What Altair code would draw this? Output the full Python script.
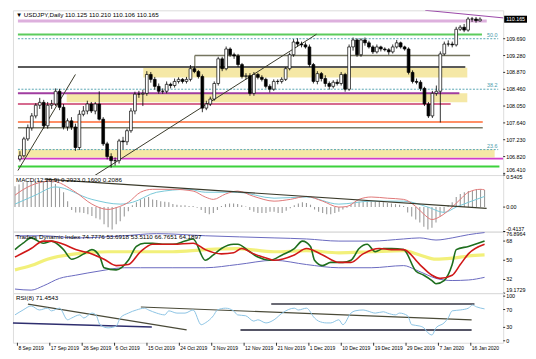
import altair as alt
import pandas as pd

# ---------------- data ----------------
opens = [106.76, 106.84, 107.25, 107.52, 107.81, 108.07, 108.14, 107.57, 108.07, 108.10,
         108.41, 108.02, 107.54, 107.69, 107.54, 107.04, 107.85, 107.93, 108.10, 107.93,
         108.10, 107.73, 107.13, 106.82, 106.72, 106.72, 107.20, 107.18, 107.45, 107.93,
         108.34, 108.34, 108.36, 108.82, 108.70, 108.53, 108.41, 108.41, 108.58, 108.55,
         108.65, 108.70, 108.65, 108.70, 108.96, 108.89, 108.77, 108.00, 108.10, 108.22,
         108.60, 109.20, 108.96, 109.44, 109.30, 109.27, 109.06, 108.77, 108.79, 108.36,
         108.82, 108.75, 108.70, 108.53, 108.46, 108.65, 108.65, 108.70, 108.96, 109.30,
         109.61, 109.56, 109.54, 109.49, 109.06, 108.65, 108.84, 108.72, 108.60, 108.53,
         108.63, 108.60, 108.82, 108.46, 109.49, 109.66, 109.30, 109.66, 109.59, 109.49,
         109.37, 109.49, 109.44, 109.42, 109.37, 109.49, 109.59, 109.49, 109.44, 108.87,
         108.65, 108.63, 108.48, 108.10, 107.81, 108.36, 108.41, 109.32, 109.56, 109.56,
         109.54, 109.92, 109.97, 109.90, 110.17, 110.17, 110.125]
highs = [106.95, 107.30, 107.60, 107.88, 108.12, 108.25, 108.20, 108.15, 108.20, 108.48,
         108.47, 108.10, 107.75, 107.78, 107.62, 107.95, 108.05, 108.18, 108.15, 108.15,
         108.41, 107.78, 107.18, 106.90, 106.80, 107.25, 107.30, 107.50, 108.00, 108.40,
         108.42, 108.45, 108.90, 108.88, 108.76, 108.60, 108.48, 108.65, 108.62, 108.72,
         108.75, 108.73, 108.76, 109.05, 109.02, 108.93, 108.82, 108.18, 108.28, 108.65,
         109.25, 109.25, 109.50, 109.48, 109.35, 109.32, 109.10, 108.85, 108.85, 108.88,
         108.86, 108.80, 108.74, 108.58, 108.70, 108.70, 108.75, 109.00, 109.35, 109.68,
         109.70, 109.62, 109.60, 109.55, 109.10, 108.90, 108.88, 108.80, 108.65, 108.68,
         108.70, 108.88, 108.86, 109.55, 109.72, 109.70, 109.70, 109.72, 109.64, 109.53,
         109.55, 109.52, 109.48, 109.46, 109.55, 109.66, 109.62, 109.52, 109.48, 108.92,
         108.72, 108.68, 108.52, 108.15, 108.42, 108.55, 109.38, 109.62, 109.65, 109.62,
         109.98, 110.02, 110.05, 110.22, 110.22, 110.22, 110.21]
lows = [106.70, 106.80, 107.20, 107.45, 107.75, 107.98, 107.50, 107.50, 107.98, 108.05,
        107.95, 107.48, 107.45, 107.47, 106.96, 106.98, 107.80, 107.85, 107.88, 107.85,
        107.70, 107.08, 106.75, 106.55, 106.60, 106.65, 107.00, 107.10, 107.40, 107.85,
        108.25, 108.05, 108.30, 108.62, 108.45, 108.35, 108.35, 108.36, 108.48, 108.50,
        108.60, 108.60, 108.60, 108.65, 108.85, 108.72, 107.90, 107.95, 108.05, 108.18,
        108.55, 108.90, 108.92, 109.25, 109.20, 109.00, 108.72, 108.70, 108.30, 108.30,
        108.70, 108.65, 108.48, 108.38, 108.42, 108.58, 108.60, 108.66, 108.92, 109.25,
        109.50, 109.48, 109.45, 109.00, 108.60, 108.58, 108.65, 108.52, 108.45, 108.48,
        108.55, 108.55, 108.40, 108.42, 109.40, 109.25, 109.25, 109.52, 109.45, 109.32,
        109.33, 109.38, 109.38, 109.30, 109.33, 109.45, 109.45, 109.40, 108.82, 108.60,
        108.58, 108.42, 108.05, 107.76, 107.76, 108.30, 107.65, 109.28, 109.50, 109.48,
        109.50, 109.88, 109.85, 109.86, 110.10, 110.08, 110.106]
closes = [106.84, 107.25, 107.52, 107.81, 108.07, 108.14, 107.57, 108.07, 108.10, 108.41,
          108.02, 107.54, 107.69, 107.54, 107.04, 107.85, 107.93, 108.10, 107.93, 108.10,
          107.73, 107.13, 106.82, 106.72, 106.72, 107.20, 107.18, 107.45, 107.93, 108.34,
          108.34, 108.36, 108.82, 108.70, 108.53, 108.41, 108.41, 108.58, 108.55, 108.65,
          108.70, 108.65, 108.70, 108.96, 108.89, 108.77, 108.00, 108.10, 108.22, 108.60,
          109.20, 108.96, 109.44, 109.30, 109.27, 109.06, 108.77, 108.79, 108.36, 108.82,
          108.75, 108.70, 108.53, 108.46, 108.65, 108.65, 108.70, 108.96, 109.30, 109.61,
          109.56, 109.54, 109.49, 109.06, 108.65, 108.84, 108.72, 108.60, 108.53, 108.63,
          108.60, 108.82, 108.46, 109.49, 109.66, 109.30, 109.66, 109.59, 109.49, 109.37,
          109.49, 109.44, 109.42, 109.37, 109.49, 109.59, 109.49, 109.44, 108.87, 108.65,
          108.63, 108.48, 108.10, 107.81, 108.36, 108.41, 109.32, 109.56, 109.56, 109.54,
          109.92, 109.97, 109.90, 110.17, 110.17, 110.13, 110.165]

date_labels = ["8 Sep 2019", "17 Sep 2019", "26 Sep 2019", "6 Oct 2019", "15 Oct 2019",
               "24 Oct 2019", "3 Nov 2019", "12 Nov 2019", "21 Nov 2019", "1 Dec 2019",
               "10 Dec 2019", "19 Dec 2019", "29 Dec 2019", "7 Jan 2020", "16 Jan 2020"]
date_pos = [0.6 + 8 * k for k in range(len(date_labels))]
price_ticks = [109.69, 109.28, 108.87, 108.46, 108.05, 107.64, 107.23, 106.82, 106.41]
price_labels = ["109.690", "109.280", "108.870", "108.460", "108.050", "107.640", "107.230",
                "106.820", "106.410"]
macd_ticks = [0.5405, 0.0, -0.4137]
macd_labels = ["0.5405", "0.00", "-0.4137"]
tdi_ticks = [76.8964, 68, 50, 32, 19.1729]
tdi_labels = ["76.8964", "68", "50", "32", "19.1729"]
rsi_ticks = [100, 70, 30, 0]
rsi_labels = ["100", "70", "30", "0"]

level_price = [110.12, 109.79, 109.28, 109.00, 108.36, 108.10, 107.66, 107.52, 106.77, 106.58]
level_x1 = [-0.5, -0.5, 44.1, -0.5, -0.5, -0.5, -0.5, -0.5, -0.5, -0.5]
level_x2 = [117.7, 116.5, 113.5, 112.3, 110.8, 108.6, 116.7, 116.7, 121.9, 120.9]
level_color = ["#ddb0dd", "#5ccc5c", "#75755f", "#5a5a5a", "#a03ca0", "#c8386a",
               "#ff6a33", "#7c7c68", "#d23cc8", "#3cd23c"]
level_width = [3, 2, 1.5, 2, 2, 1.5, 1.5, 1.5, 2, 2]

fib_price = [109.69, 108.46, 106.99]
fib_label = ["50.0", "38.2", "23.6"]

zone_lo = [108.745, 108.14, 106.80]
zone_hi = [108.985, 108.36, 106.99]
zone_x1 = [31.1, 11.8, -0.5]
zone_x2 = [112.8, 112.8, 119.7]

trend_x1 = [-0.5, 18.9, 102.2]
trend_y1 = [106.48, 106.36, 110.382]
trend_x2 = [14.0, 74.8, 122.1]
trend_y2 = [108.82, 109.80, 110.195]
trend_color = ["#3a3a2a", "#3a3a2a", "#9a48a8"]

box_x = [44.1]
box_lo = [108.99]
box_hi = [109.28]

macd_hist = [0.35, 0.38, 0.42, 0.43, 0.44, 0.44, 0.45, 0.44, 0.46, 0.47, 0.39, 0.32, 0.25, 0.10,
             -0.05, -0.09, -0.09, -0.10, -0.12, -0.15, -0.19, -0.21, -0.29, -0.34, -0.38, -0.29, -0.24, -0.16, -0.07,
             0.03, 0.08, 0.13, 0.15, 0.17, 0.13, 0.12, 0.10, 0.09, 0.08, 0.05, 0.04, 0.03, 0.03, 0.02, 0.02, -0.01,
             -0.05, -0.10, -0.12, -0.10, -0.05,
             0.02, 0.05, 0.06, 0.06, 0.05, 0.03, 0.01,
             -0.05, -0.08, -0.10, -0.10, -0.10, -0.08, -0.08, -0.10, -0.10, -0.06, -0.02,
             0.03, 0.06, 0.08, 0.07, 0.04,
             -0.04, -0.08, -0.10, -0.12, -0.12, -0.10, -0.08, -0.04, -0.01,
             0.04, 0.07, 0.09, 0.10, 0.10, 0.10, 0.09, 0.09, 0.08, 0.07, 0.06, 0.05, 0.04, 0.02,
             -0.09, -0.16, -0.21, -0.26, -0.33, -0.38, -0.35, -0.26, -0.16, -0.09,
             0.03, 0.08, 0.17, 0.22, 0.25, 0.27, 0.27, 0.30, 0.30, 0.29]
macd_main_idx = [0, 1, 9, 15, 19, 23, 25, 28, 31, 34, 39, 44, 47, 49, 52, 55, 59, 64, 68, 72, 76, 80,
                 82, 85, 88, 92, 96, 99, 101, 103, 105, 108, 110, 112, 115, 116]
macd_main = [0.20, 0.25, 0.44, 0.25, 0.05, -0.04, -0.01, 0.08, 0.25, 0.30, 0.30, 0.27, 0.17, 0.13,
             0.22, 0.27, 0.18, 0.10, 0.13, 0.18, 0.10, 0.0, 0.01, 0.13, 0.17, 0.15, 0.13, 0.01,
             -0.12, -0.21, -0.16, 0.0, 0.13, 0.25, 0.30, 0.29]
macd_sig_idx = [0, 5, 10, 19, 26, 29, 35, 43, 47, 55, 64, 72, 80, 88, 96, 102, 106, 109, 112, 116]
macd_sig = [0.05, 0.20, 0.34, 0.13, 0.05, 0.08, 0.25, 0.30, 0.25, 0.25, 0.15, 0.17, 0.05, 0.10,
            0.10, 0.0, -0.09, 0.0, 0.08, 0.18]
macd_trend = {"x1": [7.3], "y1": [0.472], "x2": [116.5], "y2": [-0.022]}

tdi_green_idx = [0, 2, 4, 7, 9, 12, 14, 17, 19, 21, 22, 25, 28, 30, 32, 34, 37, 39, 42, 44, 47, 49,
                 51, 54, 55, 58, 60, 63, 66, 69, 71, 73, 74, 76, 78, 81, 83, 85, 87, 89, 91, 93, 96,
                 99, 101, 103, 104, 106, 108, 109, 112, 116]
tdi_green = [60, 66, 71, 66, 68, 60, 51, 56, 60, 53, 43, 41, 50, 63, 66, 66, 65, 65, 68, 70, 50, 55,
             61, 65, 65, 58, 53, 50, 55, 61, 68, 63, 50, 45, 48, 48, 50, 61, 65, 58, 61, 61, 60,
             40, 36, 31, 28, 31, 46, 60, 63, 68]
tdi_red_idx = [0, 4, 7, 9, 12, 15, 19, 22, 25, 28, 31, 34, 39, 44, 47, 51, 54, 56, 59, 63, 64, 69,
               72, 76, 80, 83, 86, 90, 93, 96, 100, 103, 105, 108, 110, 112, 116]
tdi_red = [53, 61, 68, 68, 65, 60, 56, 51, 45, 46, 58, 65, 65, 66, 60, 56, 57, 61, 56, 51, 50, 55,
           61, 55, 48, 48, 56, 61, 60, 60, 46, 36, 33, 36, 46, 56, 65]
tdi_base_idx = [0, 4, 8, 15, 23, 31, 39, 47, 55, 64, 72, 80, 88, 96, 100, 104, 108, 112, 116]
tdi_base = [41, 45, 51, 56, 58, 58, 58, 60, 61, 58, 59, 57, 58, 59, 55, 51, 52, 54, 55]
tdi_up_idx = [0, 7, 15, 27, 35, 47, 64, 72, 80, 88, 96, 100, 104, 108, 112, 116]
tdi_up = [73, 73, 71, 73, 75, 73, 71, 70, 68, 68, 70, 71, 69, 71, 74, 76]
tdi_dn_idx = [0, 4, 7, 11, 15, 21, 27, 31, 39, 47, 55, 64, 72, 80, 88, 96, 99, 102, 104, 108, 112, 116]
tdi_dn = [23, 22, 26, 33, 36, 40, 43, 43, 43, 43, 46, 50, 46, 43, 43, 45, 41, 36, 33, 31, 31.5, 34]

rsi_idx = [0, 2, 4, 6, 8, 9, 11, 13, 14, 16, 17, 19, 20, 21, 23, 25, 26, 28, 30, 32, 33, 35, 37, 38,
           40, 42, 44, 46, 47, 49, 50, 52, 54, 55, 57, 59, 60, 62, 64, 66, 69, 70, 72, 74, 75, 77,
           78, 80, 81, 83, 84, 86, 87, 89, 91, 92, 94, 95, 97, 98, 100, 101, 102, 103, 104, 106,
           107, 108, 110, 112, 113, 114, 116]
rsi = [58, 69, 78, 69, 73, 67, 73, 47, 51, 58, 51, 62, 58, 36, 29, 33, 51, 62, 69, 73, 69, 62, 58, 67,
       62, 62, 69, 36, 40, 56, 69, 73, 67, 58, 56, 44, 47, 40, 47, 62, 73, 69, 73, 51, 44, 40,
       40, 47, 36, 62, 67, 69, 67, 62, 65, 62, 58, 62, 56, 36, 33, 29, 18, 13, 29, 40, 51, 67, 69,
       73, 80, 76, 71.45]
rsi_tr_x1 = [3.2, -0.5, 31.1, 55.7, 63.3]
rsi_tr_y1 = [82.2, 39.7, 75.6, 24.4, 82.2]
rsi_tr_x2 = [42.4, 33.8, 112.8, 112.8, 113.5]
rsi_tr_y2 = [24.4, 31.1, 46.7, 24.4, 82.2]
rsi_tr_color = ["#4a4a38", "#2e2e6e", "#4a4a38", "#555566", "#6a6a74"]
rsi_tr_width = [1.2, 1.5, 1.2, 2, 2]

hdr_price = "\u25bc USDJPY,Daily  110.125 110.210 110.106 110.165"
hdr_macd = "MACD(12,26,9) 0.2923 0.1600 0.2086"
hdr_tdi = "Traders Dynamic Index 74.7776 53.6918 53.5110 66.7651 64.1897"
hdr_rsi = "RSI(8) 71.4543"

# ---------------- layout ----------------
W = 494
H_PRICE, H_MACD, H_TDI, H_RSI = 166, 57, 62, 50
FONT = "Liberation Sans"
FS = 6.3      # window headers
FS_AX = 5.4   # price / indicator scale labels
FS_X = 5.0    # date labels
GRID = "#b4b4b4"
XD = [-0.5, 120.6]
xscale = alt.Scale(domain=XD, nice=False, zero=False)
grid_vals = [0.6 + 4 * k for k in range(31)]


def xax():
    return alt.Axis(values=grid_vals, grid=True, gridColor=GRID, gridDash=[1, 2], gridWidth=0.7,
                    domain=False, title=None, labels=False, ticks=False)


def yax(values):
    return alt.Axis(values=values, orient="right", grid=True, gridColor=GRID, gridDash=[1, 2],
                    gridWidth=0.7, domain=False, title=None, labels=False, ticks=False)


def header(text):
    return alt.Chart(pd.DataFrame({"t": [text]})).mark_text(
        align="left", baseline="top", font=FONT, fontSize=FS, color="black"
    ).encode(x=alt.value(3), y=alt.value(2), text="t:N")


def ylabels(vals, texts, scale, baseline="middle"):
    d = pd.DataFrame({"v": vals, "t": texts})
    txt = alt.Chart(d).mark_text(align="left", baseline=baseline, font=FONT, fontSize=FS_AX,
                                 color="black").encode(
        x=alt.value(W + 3), y=alt.Y("v:Q", scale=scale, axis=None), text="t:N")
    tick = alt.Chart(d).mark_rule(color="black", strokeWidth=0.8).encode(
        x=alt.value(W), x2=alt.value(W + 2), y=alt.Y("v:Q", scale=scale, axis=None))
    return [tick, txt]


# ---------------- price window ----------------
ps = alt.Scale(domain=[106.37, 110.382], nice=False, zero=False)
cdf = pd.DataFrame({"idx": list(range(len(closes))), "open": opens, "high": highs,
                    "low": lows, "close": closes})
zdf = pd.DataFrame({"x1": zone_x1, "x2": zone_x2, "lo": zone_lo, "hi": zone_hi})
ldf = pd.DataFrame({"x1": level_x1, "x2": level_x2, "p": level_price, "c": level_color,
                    "w": level_width})
fdf = pd.DataFrame({"p": fib_price, "t": fib_label, "x1": [-0.5] * 3, "x2": [120.6] * 3,
                    "xl": [120.4] * 3})
tdf = pd.DataFrame({"x1": trend_x1, "y1": trend_y1, "x2": trend_x2, "y2": trend_y2,
                    "c": trend_color})
bdf = pd.DataFrame({"x": box_x, "lo": box_lo, "hi": box_hi})
tag = pd.DataFrame({"p": [closes[-1]], "lo": [closes[-1] - 0.085], "hi": [closes[-1] + 0.085],
                    "t": ["110.165"]})

zones = alt.Chart(zdf).mark_rect(color="#f4e69c", opacity=0.9, clip=True).encode(
    x=alt.X("x1:Q", scale=xscale, axis=xax()), x2="x2:Q",
    y=alt.Y("lo:Q", scale=ps, axis=yax(price_ticks)), y2="hi:Q")
fibs = alt.Chart(fdf).mark_rule(color="#5aa6b4", strokeWidth=1, strokeDash=[2, 1.5]).encode(
    x=alt.X("x1:Q", scale=xscale, axis=None), x2="x2:Q", y=alt.Y("p:Q", scale=ps, axis=None))
fib_txt = alt.Chart(fdf).mark_text(align="right", baseline="bottom", font=FONT, fontSize=FS_AX,
                                   color="#4a9aaa", dy=-1).encode(
    x=alt.X("xl:Q", scale=xscale, axis=None), y=alt.Y("p:Q", scale=ps, axis=None), text="t:N")
levels = alt.Chart(ldf).mark_rule(clip=True).encode(
    x=alt.X("x1:Q", scale=xscale, axis=None), x2="x2:Q", y=alt.Y("p:Q", scale=ps, axis=None),
    color=alt.Color("c:N", scale=None), strokeWidth=alt.StrokeWidth("w:Q", scale=None))
box = alt.Chart(bdf).mark_rule(color="#75755f", strokeWidth=1.2).encode(
    x=alt.X("x:Q", scale=xscale, axis=None), y=alt.Y("lo:Q", scale=ps, axis=None), y2="hi:Q")
trends = alt.Chart(tdf).mark_rule(strokeWidth=1, clip=True).encode(
    x=alt.X("x1:Q", scale=xscale, axis=None), x2="x2:Q",
    y=alt.Y("y1:Q", scale=ps, axis=None), y2="y2:Q", color=alt.Color("c:N", scale=None))
wicks = alt.Chart(cdf).mark_rule(color="black", strokeWidth=0.8).encode(
    x=alt.X("idx:Q", scale=xscale, axis=None), y=alt.Y("low:Q", scale=ps, axis=None), y2="high:Q")
bodies = alt.Chart(cdf).mark_bar(size=2.8, stroke="black", strokeWidth=0.7).encode(
    x=alt.X("idx:Q", scale=xscale, axis=None), y=alt.Y("open:Q", scale=ps, axis=None), y2="close:Q",
    fill=alt.condition("datum.close >= datum.open", alt.value("white"), alt.value("black")))
tag_box = alt.Chart(tag).mark_rect(color="black").encode(
    x=alt.value(W + 1), x2=alt.value(W + 24), y=alt.Y("lo:Q", scale=ps, axis=None), y2="hi:Q")
tag_txt = alt.Chart(tag).mark_text(align="left", baseline="middle", font=FONT, fontSize=FS_AX,
                                   color="white").encode(
    x=alt.value(W + 3), y=alt.Y("p:Q", scale=ps, axis=None), text="t:N")

price = alt.layer(zones, fibs, levels, box, trends, wicks, bodies, fib_txt,
                  *ylabels(price_ticks[:-1], price_labels[:-1], ps),
                  *ylabels(price_ticks[-1:], price_labels[-1:], ps, "bottom"),
                  tag_box, tag_txt, header(hdr_price)).properties(width=W, height=H_PRICE)

# ---------------- MACD window ----------------
ms = alt.Scale(domain=[-0.4137, 0.5405], nice=False, zero=False)
hdf = pd.DataFrame({"idx": list(range(len(macd_hist))), "v": macd_hist,
                    "z": [0.0] * len(macd_hist)})
mmain = pd.DataFrame({"idx": macd_main_idx, "v": macd_main})
msig = pd.DataFrame({"idx": macd_sig_idx, "v": macd_sig})
mtr = pd.DataFrame(macd_trend)
hist = alt.Chart(hdf).mark_rule(color="#9a9a9a", strokeWidth=1.1).encode(
    x=alt.X("idx:Q", scale=xscale, axis=xax()),
    y=alt.Y("v:Q", scale=ms, axis=yax(macd_ticks)), y2="z:Q")
mline = alt.Chart(mmain).mark_line(color="#e07878", strokeWidth=1, interpolate="monotone").encode(
    x=alt.X("idx:Q", scale=xscale, axis=None), y=alt.Y("v:Q", scale=ms, axis=None))
sline = alt.Chart(msig).mark_line(color="#78c8d8", strokeWidth=1, interpolate="monotone").encode(
    x=alt.X("idx:Q", scale=xscale, axis=None), y=alt.Y("v:Q", scale=ms, axis=None))
mtrend = alt.Chart(mtr).mark_rule(color="#3a3a2a", strokeWidth=1.2).encode(
    x=alt.X("x1:Q", scale=xscale, axis=None), x2="x2:Q",
    y=alt.Y("y1:Q", scale=ms, axis=None), y2="y2:Q")
macd = alt.layer(hist, sline, mline, mtrend,
                 *ylabels(macd_ticks[:1], macd_labels[:1], ms, "top"),
                 *ylabels(macd_ticks[1:2], macd_labels[1:2], ms, "middle"),
                 *ylabels(macd_ticks[2:], macd_labels[2:], ms, "bottom"),
                 header(hdr_macd)).properties(width=W, height=H_MACD)

# ---------------- TDI window ----------------
ts = alt.Scale(domain=[19.1729, 76.8964], nice=False, zero=False)


def tline(idx, vals, color, width, first=False):
    d = pd.DataFrame({"idx": idx, "v": vals})
    return alt.Chart(d).mark_line(color=color, strokeWidth=width, interpolate="monotone").encode(
        x=alt.X("idx:Q", scale=xscale, axis=xax() if first else None),
        y=alt.Y("v:Q", scale=ts, axis=yax(tdi_ticks) if first else None))


tdi = alt.layer(
    tline(tdi_base_idx, tdi_base, "#f2f07a", 3.2, first=True),
    tline(tdi_up_idx, tdi_up, "#6a6ac0", 1),
    tline(tdi_dn_idx, tdi_dn, "#6a6ac0", 1),
    tline(tdi_green_idx, tdi_green, "#1e6e1e", 1.6),
    tline(tdi_red_idx, tdi_red, "#d01818", 1.6),
    *ylabels(tdi_ticks[:1], tdi_labels[:1], ts, "top"),
    *ylabels(tdi_ticks[1:4], tdi_labels[1:4], ts, "middle"),
    *ylabels(tdi_ticks[4:], tdi_labels[4:], ts, "bottom"),
    header(hdr_tdi),
).properties(width=W, height=H_TDI)

# ---------------- RSI window ----------------
rs = alt.Scale(domain=[-4.4, 106.7], nice=False, zero=False)
rdf = pd.DataFrame({"idx": rsi_idx, "v": rsi})
rtr = pd.DataFrame({"x1": rsi_tr_x1, "y1": rsi_tr_y1, "x2": rsi_tr_x2, "y2": rsi_tr_y2,
                    "c": rsi_tr_color, "w": rsi_tr_width})
ddf = pd.DataFrame({"x": date_pos, "t": date_labels})
rtrend = alt.Chart(rtr).mark_rule().encode(
    x=alt.X("x1:Q", scale=xscale, axis=xax()), x2="x2:Q",
    y=alt.Y("y1:Q", scale=rs, axis=yax(rsi_ticks)), y2="y2:Q",
    color=alt.Color("c:N", scale=None), strokeWidth=alt.StrokeWidth("w:Q", scale=None))
rline = alt.Chart(rdf).mark_line(color="#8cc4e4", strokeWidth=1, interpolate="monotone").encode(
    x=alt.X("idx:Q", scale=xscale, axis=None), y=alt.Y("v:Q", scale=rs, axis=None))
xlab = alt.Chart(ddf).mark_text(align="left", baseline="top", font=FONT, fontSize=FS_X,
                                color="black", dx=1).encode(
    x=alt.X("x:Q", scale=xscale, axis=None), y=alt.value(H_RSI + 3), text="t:N")
xtick = alt.Chart(ddf).mark_rule(color="black", strokeWidth=0.8).encode(
    x=alt.X("x:Q", scale=xscale, axis=None), y=alt.value(H_RSI), y2=alt.value(H_RSI + 3))
rsi_panel = alt.layer(rtrend, rline, *ylabels(rsi_ticks, rsi_labels, rs), xtick, xlab,
                      header(hdr_rsi)).properties(width=W, height=H_RSI)

chart = alt.vconcat(price, macd, tdi, rsi_panel, spacing=0, bounds="flush").properties(
    padding=0
).configure_view(stroke="#7c7c7c", strokeWidth=1.5).configure(background="white")

chart.save("out.html", embed_options={"renderer": "svg", "actions": False})
